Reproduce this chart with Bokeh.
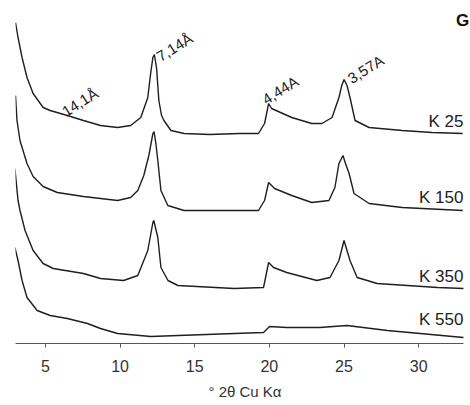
from bokeh.plotting import figure
from bokeh.models import Range1d, FixedTicker, Label, Title
from bokeh.core.properties import value
from bokeh.embed import file_html
from bokeh.resources import INLINE

# --- data (2theta in degrees, intensity in arbitrary stacked units) ---
k25_x = [3.0, 3.17, 3.44, 3.77, 4.18, 4.85, 5.32, 6.47, 7.55, 8.69, 9.84, 10.71, 11.39, 11.86,
         12.05, 12.2, 12.3, 12.45, 12.6, 12.78, 12.94, 13.41, 14.29, 16.0, 18.0, 19.27,
         19.68, 19.95, 20.15, 21.5, 22.84, 23.52, 24.2, 24.66, 24.85, 25.0, 25.2, 25.4,
         25.74, 26.68, 28.9, 30.9, 32.95]
k25_y = [321, 306, 286, 266, 250, 236, 233, 228, 223, 218, 216, 218, 226, 246,
         270, 286, 289, 275, 243, 228, 223, 213, 210, 209, 210, 210,
         220, 240, 235, 226, 220, 220, 226, 246, 258, 264, 258, 246,
         223, 216, 213, 211, 210]

k150_x = [3.0, 3.1, 3.3, 3.77, 4.18, 4.85, 5.8, 7.55, 9.84, 10.71, 11.19, 11.59, 11.93,
          12.2, 12.28, 12.4, 12.53, 12.74, 13.2, 14.29, 16.5, 19.27, 19.68, 19.95, 20.35,
          21.5, 22.84, 23.99, 24.39, 24.66, 24.93, 25.1, 25.34, 25.67, 26.68, 28.9, 32.95]
k150_y = [248, 223, 203, 180, 167, 157, 151, 147, 143, 146, 153, 168, 188,
          210, 212, 200, 183, 153, 138, 133, 133, 133, 143, 161, 155,
          148, 141, 143, 156, 180, 188, 180, 170, 150, 140, 136, 133]

k350_x = [2.96, 3.17, 3.3, 3.64, 4.18, 4.85, 5.53, 7.55, 8.69, 10.24, 11.19, 11.86, 12.2,
          12.26, 12.53, 12.74, 13.21, 13.88, 17.65, 19.61, 19.95, 20.28, 21.16, 23.18,
          24.06, 24.66, 25.0, 25.4, 25.88, 27.22, 31.27, 33.0]
k350_y = [175, 143, 133, 113, 93, 80, 75, 70, 65, 63, 68, 93, 121,
          123, 106, 76, 63, 58, 55, 56, 81, 76, 71, 63,
          66, 83, 103, 83, 66, 60, 56, 55]

k550_x = [2.96, 3.17, 3.44, 3.77, 4.45, 5.32, 6.47, 7.82, 8.69, 9.84, 12.06, 17.65,
          19.61, 20.01, 21.16, 23.38, 25.2, 27.9, 30.1, 33.0]
k550_y = [96, 83, 63, 46, 33, 28, 25, 20, 15, 10, 7, 10,
          11, 17, 16, 16, 18, 13, 10, 6]

series_names = ["K 25", "K 150", "K 350", "K 550"]
name_x = [33.0, 33.0, 33.0, 33.0]
name_y = [222, 146, 67, 24]

peak_labels = ["14,1Å", "7,14Å", "4,44A", "3,57A"]
peak_x = [6.2, 12.53, 19.61, 25.34]
peak_y = [231, 286, 243, 264]

ticks = [5, 10, 15, 20, 25, 30]
x_title = "° 2θ Cu Kα"
panel_letter = "G"

FONT = "Liberation Sans"
INK = "#1e1e1e"

p = figure(width=470, height=405, output_backend="svg", toolbar_location=None,
           x_range=Range1d(3, 33.47), y_range=Range1d(0, 343),
           y_axis_location=None, min_border_left=15, min_border_right=0,
           min_border_top=0, min_border_bottom=62)
p.outline_line_color = None
p.xgrid.visible = False
p.ygrid.visible = False
p.background_fill_color = "white"

for xs, ys in [(k25_x, k25_y), (k150_x, k150_y), (k350_x, k350_y), (k550_x, k550_y)]:
    p.line(xs, ys, line_color=INK, line_width=1.4)

p.text(x=name_x, y=name_y, text=series_names, text_align="right", text_baseline="middle",
       text_font=value(FONT), text_font_size="17px", text_color="#222222")

p.text(x=peak_x, y=peak_y, text=peak_labels, angle=0.56, text_align="left",
       text_baseline="alphabetic", text_font=value(FONT), text_font_size="15px",
       text_color="#222222")

p.add_layout(Label(x=32.95, y=323, text=panel_letter, text_align="center",
                   text_baseline="middle", text_font=FONT, text_font_size="17px",
                   text_font_style="bold", text_color="#111111"))

ax = p.xaxis[0]
ax.ticker = FixedTicker(ticks=ticks)
ax.bounds = (3, 33)
ax.axis_line_color = "#555555"
ax.axis_line_width = 1
ax.major_tick_line_color = "#555555"
ax.major_tick_out = 4
ax.major_tick_in = 0
ax.minor_tick_line_color = None
ax.major_label_text_font = FONT
ax.major_label_text_font_size = "16px"
ax.major_label_text_color = "#333333"
ax.major_label_standoff = 12

p.add_layout(Title(text=x_title, align="left", offset=193, standoff=12,
                   text_font=FONT, text_font_size="15px", text_font_style="normal",
                   text_color="#333333"), "below")

open("out.html", "w").write(file_html(p, INLINE))
